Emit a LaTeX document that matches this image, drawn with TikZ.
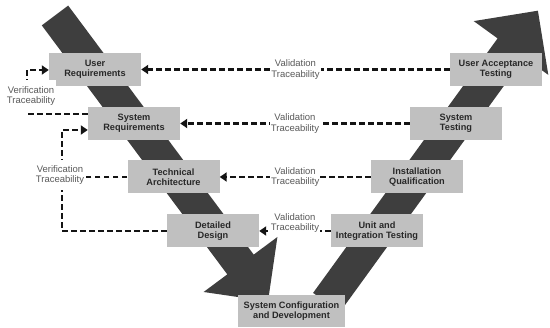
\documentclass[tikz,border=0pt]{standalone}
\usepackage{fontspec}
\setmainfont{Liberation Sans}
\usetikzlibrary{arrows.meta}

\definecolor{bandgray}{RGB}{62,62,62}
\definecolor{boxgray}{RGB}{192,192,192}
\definecolor{boxtext}{RGB}{40,40,40}
\definecolor{labelgray}{RGB}{90,90,90}
\definecolor{linegray}{RGB}{20,20,20}

\tikzset{
  phase/.style={fill=boxgray, minimum width=92pt, minimum height=33pt, align=center, text=boxtext, inner sep=1pt, font=\fontsize{9.2}{10}\selectfont\bfseries},
  trace/.style={fill=white, align=center, text=labelgray, inner sep=1pt, font=\fontsize{9.5}{10.5}\selectfont},
  tline/.style={draw=linegray, line width=2.2pt, dash pattern=on 5.5pt off 3.5pt},
  tarrow/.style={tline, -{Triangle[length=7pt,width=9pt]}}
}

\begin{document}
\begin{tikzpicture}[x=1pt, y=-1pt]
			\useasboundingbox (0,0) rectangle (550,328);

			% Bands of the V
			\fill[bandgray] (41.8,25.4) -- (68.2,5.6) -- (253.7,254.6) -- (277.4,237.0) -- (268,301.4) -- (203.6,292.0) -- (227.3,274.4) -- cycle;
			\fill[bandgray] (313.1,292.9) -- (497.6,38.4) -- (473.7,21.1) -- (537.9,10.7) -- (548.3,74.9) -- (524.4,57.6) -- (339.9,312.1) -- cycle;

			% Left side
			\node[phase] (ur) at (95,69.5) {User\\Requirements};
			\node[phase] (sr) at (134,123.5) {System\\Requirements};
			\node[phase] (ta) at (173.5,177) {Technical\\Architecture};
			\node[phase] (dd) at (213,231) {Detailed\\Design};

			% Bottom
			\node[phase, minimum width=107pt, minimum height=32pt] (scd) at (291.5,311) {System Configuration\\and Development};

			% Right side
			\node[phase] (uat) at (496,69.5) {User Acceptance\\Testing};
			\node[phase] (st) at (456,123.5) {System\\Testing};
			\node[phase] (iq) at (417,177) {Installation\\Qualification};
			\node[phase] (uit) at (377,231) {Unit and\\Integration Testing};

			% Validation
			\draw[tarrow] (uat.west) -- (ur.east) node[trace, midway] (vt1) {Validation\\Traceability};
			\draw[tarrow] (st.west) -- (sr.east) node[trace, midway] (vt2) {Validation\\Traceability};
			\draw[tarrow] (iq.west) -- (ta.east) node[trace, midway] (vt3) {Validation\\Traceability};
			\draw[tarrow] (uit.west) -- (dd.east) node[trace, midway, yshift=8pt] (vt4) {Validation\\Traceability};

			% Verification
			\coordinate (v1b) at (27,114);
			\coordinate (v1t) at (27,70);
			\draw[tarrow] (sr.west |- v1b) -- (v1b) -- (v1t) -- (v1t -| ur.west);
			\node[trace, inner ysep=6pt] (vf1) at (31,96) {Verification\\Traceability};

			\coordinate (v2t) at (62,130);
			\draw[tarrow] (dd.west) -| (v2t) -- (v2t -| sr.west);
			\node[trace, inner ysep=5pt] (vf2) at (60,175) {Verification\\Traceability};
			\draw[tline] (ta.west) -- (ta.west -| vf2.east);
		\end{tikzpicture}
\end{document}
